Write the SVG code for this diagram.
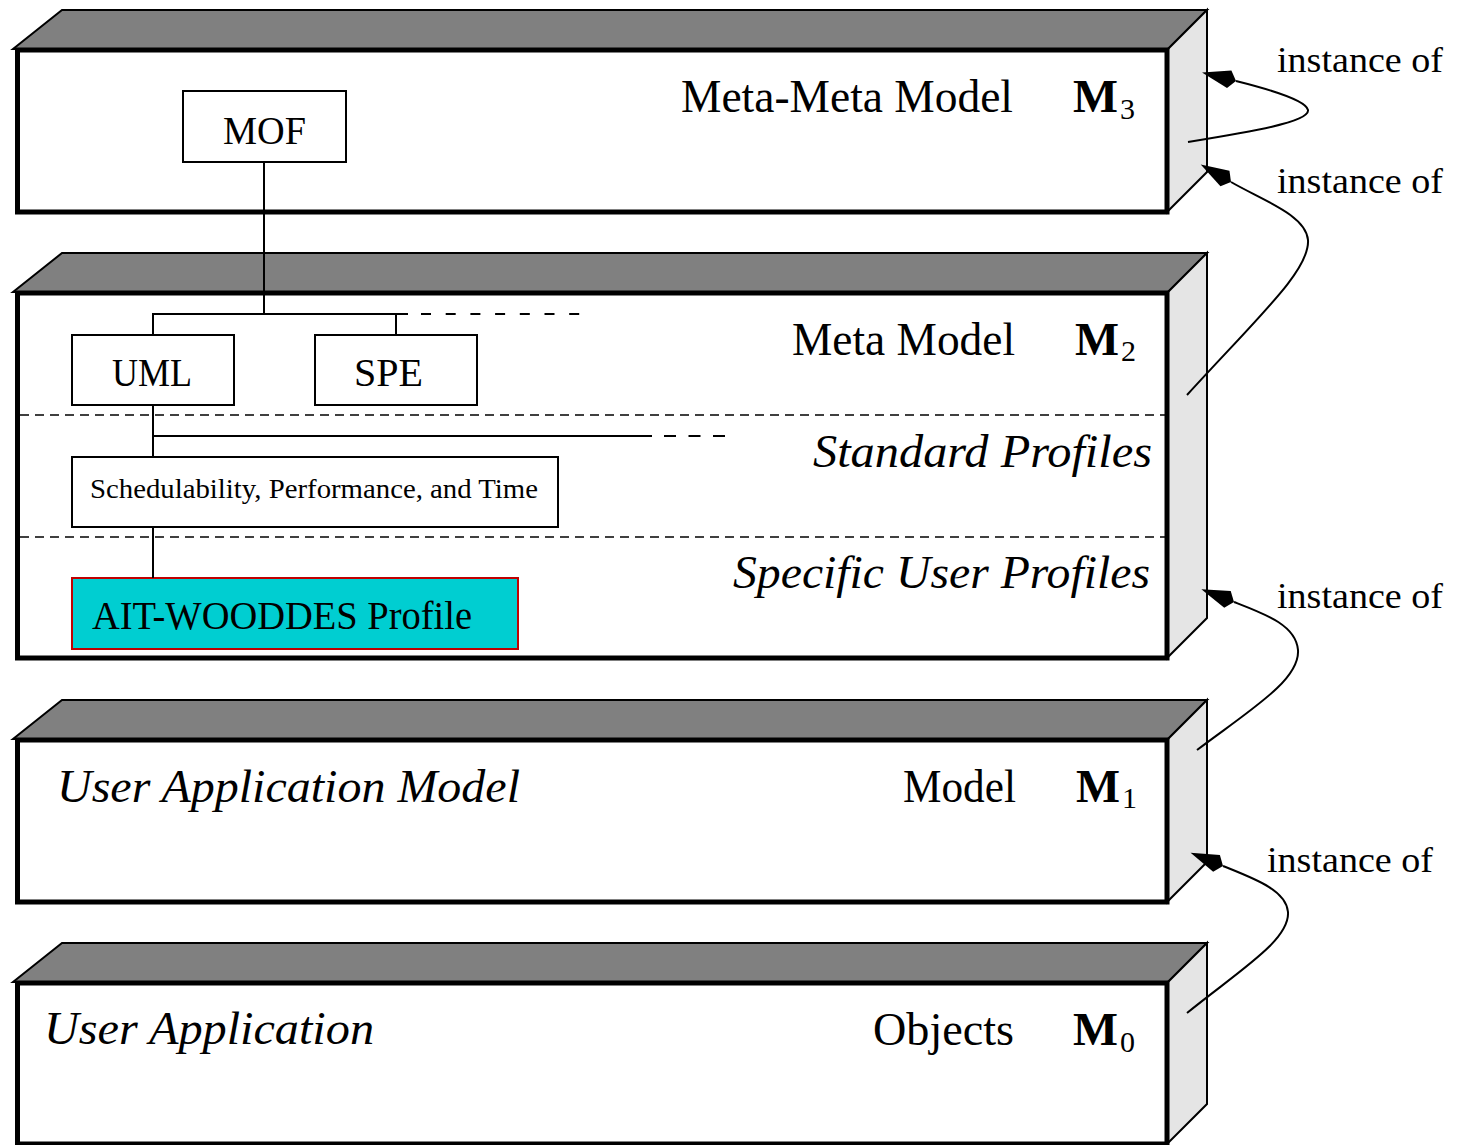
<svg xmlns="http://www.w3.org/2000/svg" width="1459" height="1145" viewBox="0 0 1459 1145">
<defs>
<style>
.front{fill:#fff;stroke:#000;stroke-width:5}
.top{fill:#808080;stroke:#000;stroke-width:2}
.side{fill:#e5e5e5;stroke:#000;stroke-width:2}
.box{fill:#fff;stroke:#000;stroke-width:2}
.ait{fill:#00CED1;stroke:#c00000;stroke-width:2}
.sep{fill:none;stroke:#000;stroke-width:1.3;stroke-dasharray:9 6}
text{font-family:"Liberation Serif","Times New Roman",serif;fill:#000}
.lbl{font-size:46px}
.it{font-style:italic}
.bold{font-weight:bold}
.sub{font-size:30px}
.inst{font-size:36px}
.node{font-size:40px}
.wire{fill:none;stroke:#000;stroke-width:2}
.arr{fill:none;stroke:#000;stroke-width:2;marker-end:url(#head)}
</style>
<marker id="head" markerUnits="userSpaceOnUse" viewBox="0 -10 36 20" markerWidth="36" markerHeight="20" refX="0" refY="0" orient="auto">
<path d="M35,0 L7,-9 L0,0 L7,9 Z" fill="#000"/>
</marker>
</defs>
<rect width="1459" height="1145" fill="#fff"/>

<g id="layer-m3">
<polygon class="top" points="13,49 62,10 1207,10 1167,50"/>
<polygon class="side" points="1167,50 1207,10 1207,172 1167,212"/>
<rect class="front" x="17.5" y="50" width="1149.5" height="162"/>
<text class="lbl" x="681" y="112" textLength="332" lengthAdjust="spacingAndGlyphs">Meta-Meta Model</text>
<text class="lbl bold" x="1073" y="112" textLength="45" lengthAdjust="spacingAndGlyphs">M</text>
<text class="sub" x="1120" y="119">3</text>
</g>

<g id="layer-m2">
<polygon class="top" points="13,292 62,253 1207,253 1167,293"/>
<polygon class="side" points="1167,293 1207,253 1207,618 1167,658"/>
<rect class="front" x="17.5" y="293" width="1149.5" height="365"/>
<line class="sep" x1="20" y1="415" x2="1165" y2="415"/>
<line class="sep" x1="20" y1="537" x2="1165" y2="537"/>
<text class="lbl" x="792" y="355" textLength="223" lengthAdjust="spacingAndGlyphs">Meta Model</text>
<text class="lbl bold" x="1075" y="355" textLength="44" lengthAdjust="spacingAndGlyphs">M</text>
<text class="sub" x="1121" y="361">2</text>
<text class="lbl it" x="813" y="467" textLength="339" lengthAdjust="spacingAndGlyphs">Standard Profiles</text>
<text class="lbl it" x="733" y="588" textLength="417" lengthAdjust="spacingAndGlyphs">Specific User Profiles</text>
</g>

<g id="layer-m1">
<polygon class="top" points="13,739 62,700 1207,700 1167,740"/>
<polygon class="side" points="1167,740 1207,700 1207,862 1167,902"/>
<rect class="front" x="17.5" y="740" width="1149.5" height="162"/>
<text class="lbl it" x="57" y="802" textLength="463" lengthAdjust="spacingAndGlyphs">User Application Model</text>
<text class="lbl" x="903" y="802" textLength="113" lengthAdjust="spacingAndGlyphs">Model</text>
<text class="lbl bold" x="1076" y="802" textLength="44" lengthAdjust="spacingAndGlyphs">M</text>
<text class="sub" x="1122" y="808">1</text>
</g>

<g id="layer-m0">
<polygon class="top" points="13,982 62,943 1207,943 1167,983"/>
<polygon class="side" points="1167,983 1207,943 1207,1104 1167,1144"/>
<rect class="front" x="17.5" y="983" width="1149.5" height="161"/>
<text class="lbl it" x="44" y="1044" textLength="330" lengthAdjust="spacingAndGlyphs">User Application</text>
<text class="lbl" x="873" y="1045" textLength="141" lengthAdjust="spacingAndGlyphs">Objects</text>
<text class="lbl bold" x="1073" y="1045" textLength="45" lengthAdjust="spacingAndGlyphs">M</text>
<text class="sub" x="1120" y="1052">0</text>
</g>

<g id="node-mof">
<rect class="box" x="183" y="91" width="163" height="71"/>
<text class="node" x="223" y="144" textLength="83" lengthAdjust="spacingAndGlyphs">MOF</text>
</g>
<g id="node-uml">
<rect class="box" x="72" y="335" width="162" height="70"/>
<text class="node" x="112" y="386" textLength="80" lengthAdjust="spacingAndGlyphs">UML</text>
</g>
<g id="node-spe">
<rect class="box" x="315" y="335" width="162" height="70"/>
<text class="node" x="354" y="386" textLength="69" lengthAdjust="spacingAndGlyphs">SPE</text>
</g>
<g id="node-spt">
<rect class="box" x="72" y="457" width="486" height="70"/>
<text x="90" y="498" font-size="28" textLength="448" lengthAdjust="spacingAndGlyphs">Schedulability, Performance, and Time</text>
</g>
<g id="node-ait">
<rect class="ait" x="72" y="578" width="446" height="71"/>
<text x="92" y="629" font-size="39" textLength="380" lengthAdjust="spacingAndGlyphs">AIT-WOODDES Profile</text>
</g>

<g id="connectors">
<path class="wire" d="M264,162 V314"/>
<path class="wire" d="M153,335 V314 H408"/>
<path class="wire" d="M396,314 V335"/>
<path class="wire" d="M421,314 H580" stroke-dasharray="10 14.7"/>
<path class="wire" d="M153,405 V457"/>
<path class="wire" d="M153,436 H652" stroke-width="2.5"/>
<path class="wire" d="M664,436 H726" stroke-dasharray="12 12.5" stroke-width="2.5"/>
<path class="wire" d="M153,527 V578"/>
<path class="arr" d="M1188,142 C1250,132 1310,122 1308,110 C1306,100 1268,89 1236,81"/>
<path class="arr" d="M1187,395 C1260,315 1310,270 1308,240 C1306,215 1262,200 1231,182"/>
<path class="arr" d="M1197,750 C1250,710 1300,680 1298,650 C1296,625 1265,614 1234,602"/>
<path class="arr" d="M1187,1013 C1240,970 1290,940 1288,912 C1286,890 1255,879 1223,866"/>
<text class="inst" x="1277" y="72" textLength="166" lengthAdjust="spacingAndGlyphs">instance of</text>
<text class="inst" x="1277" y="193" textLength="166" lengthAdjust="spacingAndGlyphs">instance of</text>
<text class="inst" x="1277" y="608" textLength="166" lengthAdjust="spacingAndGlyphs">instance of</text>
<text class="inst" x="1267" y="872" textLength="166" lengthAdjust="spacingAndGlyphs">instance of</text>
</g>
</svg>
